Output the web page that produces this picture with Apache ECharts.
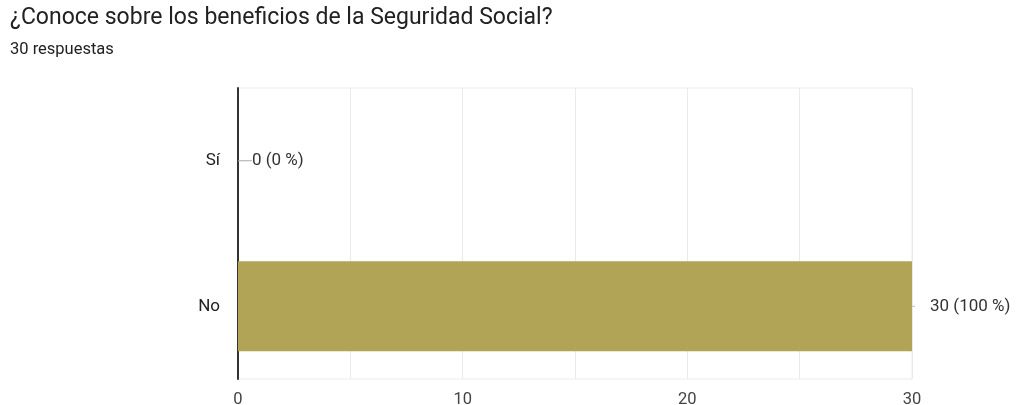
<!DOCTYPE html>
<html>
<head>
<meta charset="utf-8">
<script src="https://cdn.jsdelivr.net/npm/echarts@6/dist/echarts.min.js"></script>
<style>
html,body{margin:0;padding:0;background:#fff;}
#chart{width:1016px;height:405px;}
</style>
</head>
<body>
<div id="chart"></div>
<script>
const titleText = '¿Conoce sobre los beneficios de la Seguridad Social?';
const subtitleText = '30 respuestas';
const categories = ['Sí', 'No'];
const values = [0, 30];
const percents = ['0 %', '100 %'];
const total = 30;

const chart = echarts.init(document.getElementById('chart'));
chart.setOption({
  animation: false,
  title: {
    text: titleText,
    subtext: subtitleText,
    left: 10,
    top: 7,
    padding: 0,
    itemGap: 11,
    textStyle: { fontFamily: 'Roboto', fontSize: 23, fontWeight: 'normal', color: '#202124' },
    subtextStyle: { fontFamily: 'Roboto', fontSize: 16.5, color: '#202124' }
  },
  grid: {
    left: 238, right: 104, top: 88, bottom: 26,
    outerBoundsMode: 'none',
    show: true, borderColor: '#ebebeb', borderWidth: 1
  },
  xAxis: {
    type: 'value', min: 0, max: total, interval: 5,
    axisLine: { show: false },
    axisTick: { show: false },
    splitLine: { show: true, lineStyle: { color: '#ebebeb', width: 1 } },
    axisLabel: {
      margin: 12, fontFamily: 'Roboto', fontSize: 16.5, color: '#444',
      formatter: v => (v % 10 === 0 ? String(v) : '')
    }
  },
  yAxis: {
    type: 'category', data: categories, inverse: true,
    axisLine: { show: true, lineStyle: { color: '#333', width: 2 } },
    axisTick: { show: false },
    axisLabel: { margin: 18, fontFamily: 'Roboto', fontSize: 17, color: '#222' }
  },
  series: [{
    type: 'bar',
    data: values.map((v, i) => ({
      value: v,
      label: {
        formatter: i === 0
          ? '{l|}{t|' + v + ' (' + percents[i] + ')}'
          : '{s|}{g|}{t|' + v + ' (' + percents[i] + ')}'
      }
    })),
    barWidth: '62%',
    itemStyle: { color: '#b1a456' },
    label: {
      show: true, position: 'right', distance: 0,
      fontFamily: 'Roboto', fontSize: 17, color: '#333',
      rich: {
        l: { width: 14, height: 1, backgroundColor: '#aaa', verticalAlign: 'middle' },
        s: { width: 3, height: 1, backgroundColor: '#bbb', verticalAlign: 'middle' },
        g: { width: 15, height: 1, verticalAlign: 'middle' },
        t: { fontFamily: 'Roboto', fontSize: 17, color: '#333', verticalAlign: 'middle' }
      }
    }
  }]
});
</script>
</body>
</html>
